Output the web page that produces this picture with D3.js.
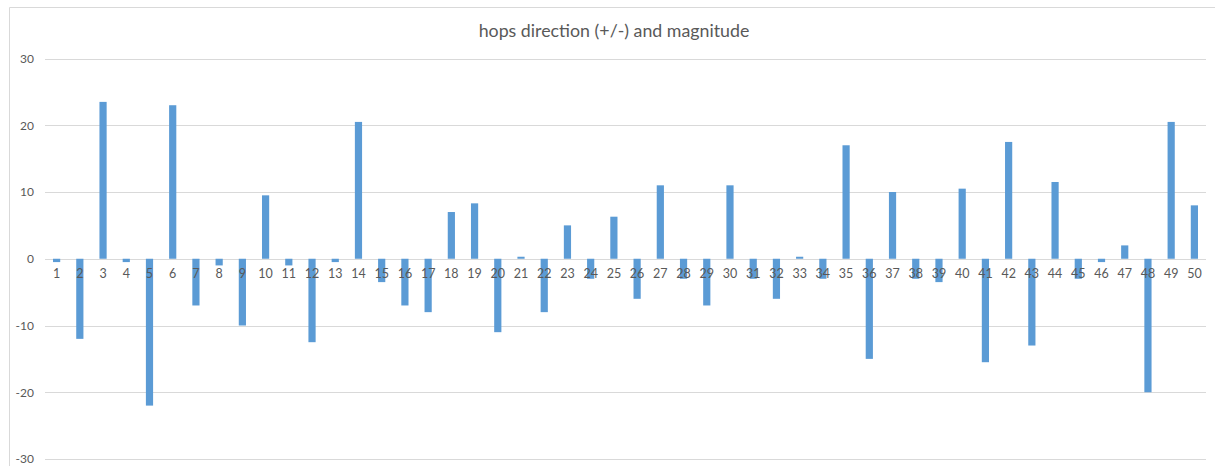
<!DOCTYPE html>
<html>
<head>
<meta charset="utf-8">
<script src="https://cdn.jsdelivr.net/npm/d3@7"></script>
<style>
  html, body { margin: 0; padding: 0; background: #fff; }
  svg { display: block; }
</style>
</head>
<body>
<svg id="chart" width="1215" height="466"></svg>
<script>
const categories = d3.range(1, 51).map(String);
const values = [
  -0.5, -12, 23.5, -0.5, -22, 23, -7, -1, -10, 9.5,
  -1, -12.5, -0.5, 20.5, -3.5, -7, -8, 7, 8.3, -11,
  0.3, -8, 5, -3, 6.3, -6, 11, -3, -7, 11,
  -3, -6, 0.3, -3, 17, -15, 10, -3, -3.5, 10.5,
  -15.5, 17.5, -13, 11.5, -3, -0.5, 2, -20, 20.5, 8
];
const yTicks = [-30, -20, -10, 0, 10, 20, 30];
const title = "hops direction (+/-) and magnitude";

(function () {
const svg = d3.select("#chart");
const W = 1215, H = 466;
const plotLeft = 45, plotRight = 1206, plotTop = 58.5, plotBottom = 459;

// chart border
svg.append("path")
  .attr("d", `M9.5,${H} V7.5 H${W}`)
  .attr("fill", "none")
  .attr("stroke", "#d9d9d9")
  .attr("stroke-width", 1);

const x = d3.scaleBand().domain(categories).range([plotLeft, plotRight]).paddingInner(0.69).paddingOuter(0.345);
const y = d3.scaleLinear().domain([-30, 30]).range([plotBottom, plotTop]);

// gridlines
svg.append("g").selectAll("line").data(yTicks).join("line")
  .attr("x1", plotLeft).attr("x2", plotRight)
  .attr("y1", d => Math.round(y(d)) + 0.5).attr("y2", d => Math.round(y(d)) + 0.5)
  .attr("stroke", "#d9d9d9").attr("stroke-width", 1);

// y axis labels
const yAxis = d3.axisLeft(y).tickValues(yTicks).tickSize(0).tickPadding(0).tickFormat(d => String(d));
const gy = svg.append("g").attr("transform", "translate(34,0)").call(yAxis);
gy.select(".domain").remove();
gy.selectAll("text")
  .attr("fill", "#595959")
  .style("font-family", "Lato, 'Open Sans', sans-serif")
  .style("font-size", "12px");

// bars
svg.append("g").selectAll("rect").data(values).join("rect")
  .attr("x", (d, i) => x(categories[i]))
  .attr("width", x.bandwidth())
  .attr("y", d => y(Math.max(0, d)))
  .attr("height", d => Math.abs(y(d) - y(0)))
  .attr("fill", "#5b9bd5");

// x axis labels (drawn over bars, at zero line)
const xAxis = d3.axisBottom(x).tickSize(0).tickPadding(10);
const gx = svg.append("g").attr("transform", `translate(0,${y(0)})`).call(xAxis);
gx.select(".domain").remove();
gx.selectAll("text")
  .attr("fill", "#595959")
  .style("font-family", "Lato, 'Open Sans', sans-serif")
  .style("font-size", "12.5px");

// title
svg.append("text")
  .attr("x", 614).attr("y", 37)
  .attr("text-anchor", "middle")
  .attr("fill", "#595959")
  .style("font-family", "Lato, 'Open Sans', sans-serif")
  .style("font-size", "17.8px")
  .text(title);
})();
</script>
</body>
</html>
